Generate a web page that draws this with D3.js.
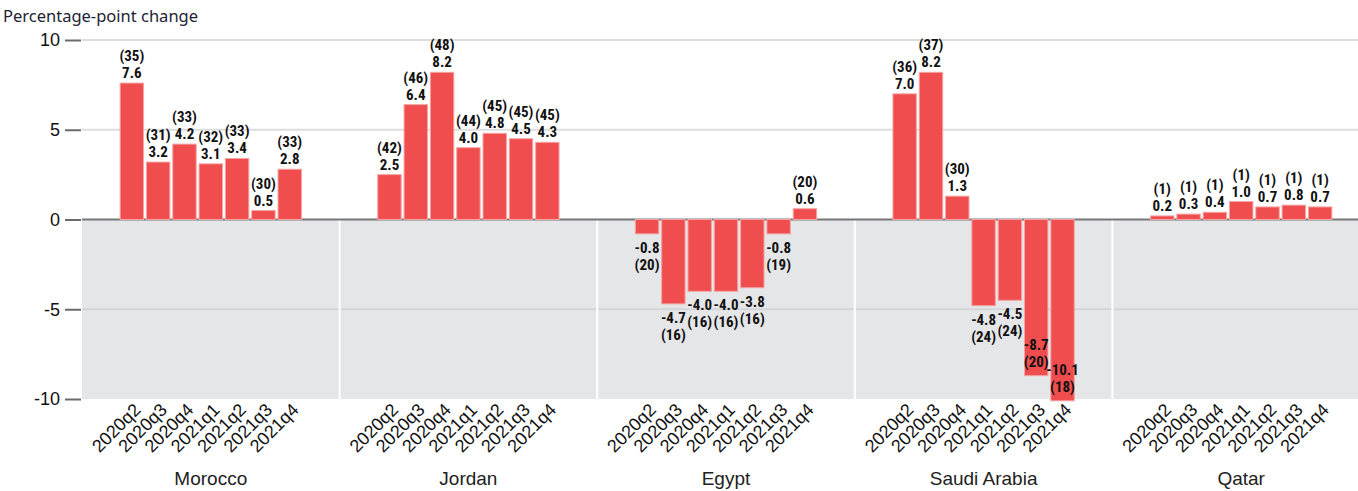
<!DOCTYPE html>
<html lang="en">
<head>
<meta charset="utf-8">
<title>Percentage-point change</title>
<script src="https://cdn.jsdelivr.net/npm/d3@7"></script>
<style>
  body { margin: 0; background: #fff; }
  svg { display: block; }
</style>
</head>
<body>
<script>
// data
var countries = ["Morocco", "Jordan", "Egypt", "Saudi Arabia", "Qatar"];
var quarters = ["2020q2", "2020q3", "2020q4", "2021q1", "2021q2", "2021q3", "2021q4"];
var changeMorocco = [7.6, 3.2, 4.2, 3.1, 3.4, 0.5, 2.8];
var changeJordan  = [2.5, 6.4, 8.2, 4.0, 4.8, 4.5, 4.3];
var changeEgypt   = [-0.8, -4.7, -4.0, -4.0, -3.8, -0.8, 0.6];
var changeSaudi   = [7.0, 8.2, 1.3, -4.8, -4.5, -8.7, -10.1];
var changeQatar   = [0.2, 0.3, 0.4, 1.0, 0.7, 0.8, 0.7];
var countMorocco = [35, 31, 33, 32, 33, 30, 33];
var countJordan  = [42, 46, 48, 44, 45, 45, 45];
var countEgypt   = [20, 16, 16, 16, 16, 19, 20];
var countSaudi   = [36, 37, 30, 24, 24, 20, 18];
var countQatar   = [1, 1, 1, 1, 1, 1, 1];
var yTicks = [10, 5, 0, -5, -10];

var changes = [changeMorocco, changeJordan, changeEgypt, changeSaudi, changeQatar];
var counts = [countMorocco, countJordan, countEgypt, countSaudi, countQatar];

var w = 1358, h = 491;
var left = 82, right = 1370;

var svg = d3.select("body").append("svg")
  .attr("width", w).attr("height", h);

var x0 = d3.scaleBand().domain(countries).range([left, right]);
var x1 = d3.scaleBand().domain(quarters).range([0, x0.bandwidth()])
  .paddingInner(0.11).paddingOuter(1.45);
var y = d3.scaleLinear().domain([-10, 10]).range([399, 40]);

// grey area below zero
svg.append("rect")
  .attr("x", left).attr("y", y(0))
  .attr("width", right - left).attr("height", y(-10) - y(0))
  .attr("fill", "#e5e6e8");

// gridlines
svg.selectAll("line.grid")
  .data(yTicks.filter(function(d) { return d !== 0 && d !== -10; }))
  .enter().append("line")
  .attr("class", "grid")
  .attr("x1", left).attr("x2", right)
  .attr("y1", function(d) { return y(d); })
  .attr("y2", function(d) { return y(d); })
  .attr("stroke", function(d) { return d < 0 ? "#d4d5d8" : "#dddddd"; })
  .attr("stroke-width", 2);

// white separators between panels
svg.selectAll("line.sep")
  .data(countries.slice(1))
  .enter().append("line")
  .attr("class", "sep")
  .attr("x1", function(d) { return x0(d); })
  .attr("x2", function(d) { return x0(d); })
  .attr("y1", y(0)).attr("y2", y(-10))
  .attr("stroke", "#ffffff").attr("stroke-width", 2);

// y axis
var yAxis = d3.axisLeft(y).tickValues(yTicks).tickSize(16).tickPadding(5)
  .tickFormat(function(d) { return d; });
var gy = svg.append("g").attr("transform", "translate(" + (left - 1) + ",0)").call(yAxis);
gy.select(".domain").remove();
gy.selectAll(".tick line").attr("stroke", "#6b6b6b").attr("stroke-width", 2);
gy.selectAll(".tick text")
  .attr("font-family", "Liberation Sans, Arial, sans-serif")
  .attr("font-size", 18).attr("fill", "#111");

// zero line
svg.append("line")
  .attr("x1", left).attr("x2", right)
  .attr("y1", y(0)).attr("y2", y(0))
  .attr("stroke", "#777777").attr("stroke-width", 2);

svg.append("text")
  .attr("x", 3).attr("y", 22)
  .attr("font-family", "Noto Sans, sans-serif")
  .attr("font-size", 16.5)
  .attr("fill", "#1d2333")
  .text("Percentage-point change");

var labelFont = "Liberation Sans Narrow, Roboto Condensed, Liberation Sans, Arial, sans-serif";

countries.forEach(function(c, ci) {
  var g = svg.append("g").attr("transform", "translate(" + x0(c) + ",0)");
  var rows = quarters.map(function(q, i) {
    return { q: q, v: changes[ci][i], n: counts[ci][i] };
  });

  g.selectAll("rect")
    .data(rows).enter().append("rect")
    .attr("x", function(d) { return x1(d.q); })
    .attr("width", x1.bandwidth())
    .attr("y", function(d) { return y(Math.max(0, d.v)); })
    .attr("height", function(d) { return Math.abs(y(d.v) - y(0)); })
    .attr("fill", "#ef4d4e")
    .attr("stroke", "#f6a3a3").attr("stroke-width", 1);

  var lab = g.selectAll("g.lab")
    .data(rows).enter().append("g")
    .attr("class", "lab")
    .attr("font-family", labelFont)
    .attr("font-size", 15)
    .attr("font-weight", "bold")
    .attr("fill", "#111")
    .attr("text-anchor", "middle");

  lab.each(function(d) {
    var el = d3.select(this);
    var cx = x1(d.q) + x1.bandwidth() / 2;
    var top, bottom;
    var vs = d.v.toFixed(1);
    var ns = "(" + d.n + ")";
    if (d.v >= 0) {
      top = y(d.v) - 22; bottom = y(d.v) - 5;
      el.append("text").attr("x", cx).attr("y", top).text(ns);
      el.append("text").attr("x", cx).attr("y", bottom).text(vs);
    } else {
      var by = y(d.v);
      if (by + 40 > y(-10)) {
        top = by - 26; bottom = by - 9;
      } else {
        top = by + 19; bottom = by + 36;
      }
      el.append("text").attr("x", cx).attr("y", top).text(vs);
      el.append("text").attr("x", cx).attr("y", bottom).text(ns);
    }
  });

  // rotated quarter labels
  g.selectAll("text.q")
    .data(quarters).enter().append("text")
    .attr("class", "q")
    .attr("text-anchor", "end")
    .attr("font-family", "Liberation Sans, Arial, sans-serif")
    .attr("font-size", 18)
    .attr("fill", "#111")
    .attr("transform", function(q) {
      return "translate(" + (x1(q) + x1.bandwidth() / 2 + 10) + ",411) rotate(-45)";
    })
    .text(function(q) { return q; });

  g.append("text")
    .attr("x", x0.bandwidth() / 2).attr("y", 485)
    .attr("text-anchor", "middle")
    .attr("font-family", "Liberation Sans, Arial, sans-serif")
    .attr("font-size", 19)
    .attr("fill", "#222")
    .text(c);
});
</script>
</body>
</html>
